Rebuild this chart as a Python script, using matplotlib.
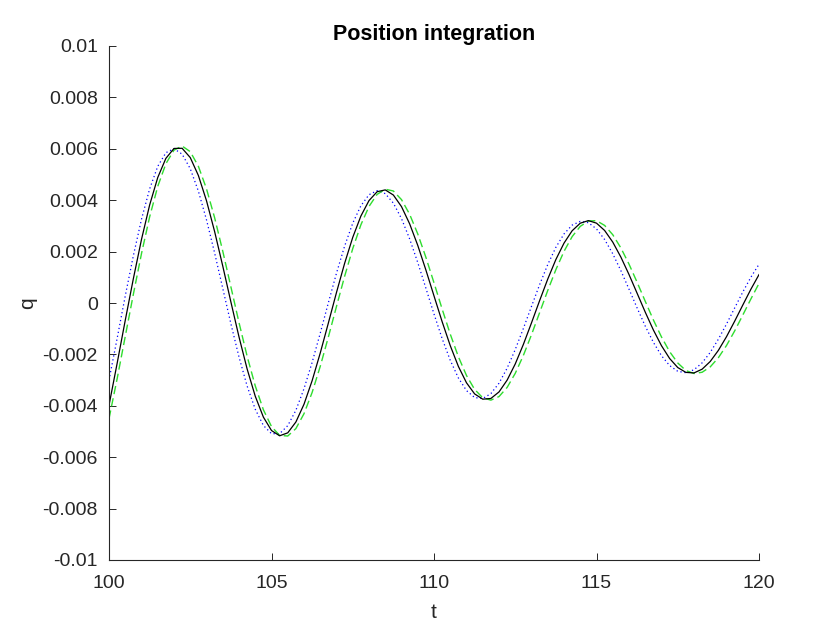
import numpy as np
import matplotlib
matplotlib.use("Agg")
import matplotlib.pyplot as plt

# time samples (step 0.25 from 100 to 120)
t = np.linspace(100, 120, 81)

# values in units of 1e-3
q_solid = [
    -3.98, -2.35, -0.674, 0.950, 2.475, 3.811, 4.883, 5.628, 6.013, 6.020,
    5.659, 4.962, 3.979, 2.780, 1.439, 0.044, -1.319, -2.567, -3.627, -4.439,
    -4.962, -5.167, -5.052, -4.631, -3.939, -3.023, -1.946, -0.777, 0.411, 1.544,
    2.554, 3.383, 3.985, 4.330, 4.401, 4.201, 3.750, 3.082, 2.243, 1.286,
    0.276, -0.726, -1.659, -2.467, -3.105, -3.537, -3.742, -3.715, -3.461, -3.001,
    -2.371, -1.611, -0.772, 0.093, 0.931, 1.692, 2.329, 2.810, 3.105, 3.206,
    3.107, 2.822, 2.370, 1.786, 1.108, 0.378, -0.356, -1.050, -1.663, -2.159,
    -2.511, -2.700, -2.721, -2.575, -2.275, -1.843, -1.311, -0.711, -0.083, 0.535,
    1.104,
]

q_dashed = [
    -4.50, -2.95, -1.300, 0.343, 1.924, 3.349, 4.537, 5.418, 5.949, 6.107,
    5.889, 5.320, 4.443, 3.318, 2.019, 0.631, -0.761, -2.072, -3.224, -4.153,
    -4.807, -5.152, -5.176, -4.887, -4.307, -3.481, -2.465, -1.323, -0.132, 1.039,
    2.118, 3.041, 3.757, 4.227, 4.428, 4.358, 4.023, 3.453, 2.689, 1.779,
    0.785, -0.233, -1.211, -2.090, -2.821, -3.363, -3.687, -3.780, -3.641, -3.285,
    -2.737, -2.039, -1.233, -0.374, 0.488, 1.298, 2.009, 2.582, 2.982, 3.192,
    3.203, 3.019, 2.658, 2.143, 1.513, 0.805, 0.066, -0.658, -1.323, -1.893,
    -2.333, -2.628, -2.743, -2.695, -2.485, -2.129, -1.654, -1.089, -0.473, 0.156,
    0.761,
]

q_dotted = [
    -3.00, -1.38, 0.275, 1.843, 3.259, 4.439, 5.318, 5.848, 6.005, 5.791,
    5.226, 4.353, 3.235, 1.947, 0.570, -0.806, -2.100, -3.232, -4.135, -4.764,
    -5.085, -5.085, -4.772, -4.175, -3.335, -2.312, -1.173, 0.011, 1.163, 2.216,
    3.107, 3.784, 4.213, 4.371, 4.257, 3.885, 3.283, 2.495, 1.574, 0.578,
    -0.428, -1.383, -2.229, -2.917, -3.409, -3.679, -3.717, -3.525, -3.121, -2.536,
    -1.810, -0.990, -0.131, 0.715, 1.497, 2.167, 2.687, 3.030, 3.176, 3.125,
    2.883, 2.470, 1.916, 1.258, 0.539, -0.195, -0.899, -1.531, -2.052, -2.435,
    -2.658, -2.712, -2.598, -2.329, -1.922, -1.408, -0.820, -0.196, 0.424, 1.003,
    1.506,
]

x_ticks = [100, 105, 110, 115, 120]
y_ticks = [0.01, 0.008, 0.006, 0.004, 0.002, 0, -0.002, -0.004, -0.006, -0.008, -0.01]
y_tick_labels = ["0.01", "0.008", "0.006", "0.004", "0.002", "0",
                 "-0.002", "-0.004", "-0.006", "-0.008", "-0.01"]

plt.rcParams['font.family'] = ['Liberation Sans', 'DejaVu Sans']
axcol = '#262626'

fig = plt.figure(figsize=(8.4, 6.3), dpi=100, facecolor='white')
ax = fig.add_axes([109/840, 70/630, 650/840, 514/630])

scale = 1e-3
ax.plot(t, np.array(q_dotted) * scale, color=(0, 0, 1), lw=0.9, linestyle=(0, (1, 2.2)))
ax.plot(t, np.array(q_dashed) * scale, color='#2edd2e', lw=1.0, linestyle=(0, (6, 3)))
ax.plot(t, np.array(q_solid) * scale, color='black', lw=0.9)

ax.set_xlim(100, 120)
ax.set_ylim(-0.01, 0.01)
ax.set_xticks(x_ticks)
ax.set_xticklabels([str(v) for v in x_ticks])
ax.set_yticks(y_ticks)
ax.set_yticklabels(y_tick_labels)

for side in ['top', 'right']:
    ax.spines[side].set_visible(False)
for side in ['left', 'bottom']:
    ax.spines[side].set_color(axcol)
    ax.spines[side].set_linewidth(0.8)

ax.tick_params(direction='in', length=4.7, width=0.7, colors=axcol, labelsize=14)
ax.tick_params(axis='y', pad=8)
ax.tick_params(axis='x', pad=11)

ax.set_title('Position integration', fontsize=15.5, fontweight='bold', color='black', pad=4.5)
ax.set_xlabel('t', fontsize=15, color=axcol, labelpad=8)
ax.set_ylabel('q', fontsize=15, color=axcol, labelpad=4)

fig.savefig('out.png', dpi=100, facecolor='white')
